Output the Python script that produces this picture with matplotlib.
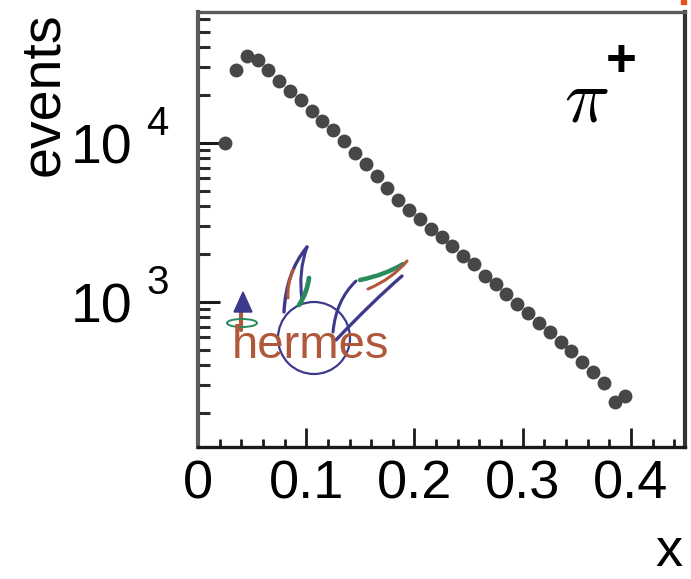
import matplotlib
matplotlib.use('Agg')
import matplotlib.pyplot as plt
from matplotlib.patches import Ellipse, Polygon, PathPatch, Rectangle
from matplotlib.path import Path
from matplotlib.transforms import blended_transform_factory, ScaledTranslation
import matplotlib.ticker as mticker

# ---------------- data ----------------
x_bins = [0.025, 0.035, 0.045, 0.055, 0.065, 0.075, 0.085, 0.095, 0.105, 0.115,
          0.125, 0.135, 0.145, 0.155, 0.165, 0.175, 0.185, 0.195, 0.205, 0.215,
          0.225, 0.235, 0.245, 0.255, 0.265, 0.275, 0.285, 0.295, 0.305, 0.315,
          0.325, 0.335, 0.345, 0.355, 0.365, 0.375, 0.385, 0.395]
events = [10000, 28840, 35080, 33110, 28840, 24550, 21380, 18620, 15850, 13800,
          12020, 10230, 8710, 7410, 6170, 5250, 4370, 3800, 3310, 2880,
          2570, 2240, 1950, 1740, 1450, 1290, 1120, 977, 851, 741,
          646, 562, 490, 417, 363, 309, 234, 257]
xtick_values = [0, 0.1, 0.2, 0.3, 0.4]
xtick_labels = ['0', '0.1', '0.2', '0.3', '0.4']
ytick_values = [1e3, 1e4]
ytick_bases = ['10', '10']
ytick_exponents = ['3', '4']
x_title = 'x'
y_title = 'events'
particle = r'$\pi$'
charge = '+'
logo_text = 'hermes'

plt.rcParams['font.family'] = ['Liberation Sans', 'DejaVu Sans']

W, H = 691, 579
fig = plt.figure(figsize=(W / 100, H / 100), dpi=100)
ax = fig.add_axes([198 / W, 1 - 447 / H, (685 - 198) / W, (447 - 12) / H])
ax.set_yscale('log')
ax.set_xlim(0, 0.45)
ax.set_ylim(122.5, 66700)

ax.plot(x_bins, events, 'o', color='#474747', ms=10, mec='none', zorder=3)

# spines
ax.spines['left'].set(color='#5a5a5a', linewidth=3)
ax.spines['top'].set(color='#5a5a5a', linewidth=2.4)
ax.spines['right'].set(color='#333333', linewidth=3)
ax.spines['bottom'].set(color='#1a1a1a', linewidth=2.4)

# ticks
ax.set_xticks(xtick_values)
ax.set_xticklabels(xtick_labels)
ax.xaxis.set_minor_locator(mticker.MultipleLocator(0.02))
ax.tick_params(axis='x', which='major', direction='in', length=14, width=2,
               color='#1a1a1a', labelsize=39, pad=9)
ax.tick_params(axis='x', which='minor', direction='in', length=6, width=2,
               color='#1a1a1a')
ax.yaxis.set_major_locator(mticker.FixedLocator(ytick_values))
ax.yaxis.set_minor_locator(mticker.LogLocator(base=10, subs=range(2, 10)))
ax.yaxis.set_minor_formatter(mticker.NullFormatter())
ax.tick_params(axis='y', which='major', direction='in', length=16, width=2.2,
               color='#1a1a1a', labelleft=False)
ax.tick_params(axis='y', which='minor', direction='in', length=8.5, width=2.2,
               color='#2a2a2a')

# y tick labels (base + raised exponent)
trans = blended_transform_factory(ax.transAxes, ax.transData)
for v, base, ex in zip(ytick_values, ytick_bases, ytick_exponents):
    ax.text(-66 / 487, v, base, ha='right', va='baseline', fontsize=40,
            transform=trans + ScaledTranslation(0, -0.20, fig.dpi_scale_trans))
    ax.text(-52 / 487, v, ex, ha='left', va='baseline', fontsize=29,
            transform=trans + ScaledTranslation(0, 0.08, fig.dpi_scale_trans))

# axis titles
ax.set_xlabel(x_title, loc='right', fontsize=39)
ax.xaxis.set_label_coords(0.995, -0.185)
ax.set_ylabel(y_title, loc='top', fontsize=40)
ax.yaxis.set_label_coords(-0.263, 1.0)

# pi+ label
fig.text(564 / W, 1 - 122 / H, particle, fontsize=54, math_fontfamily='cm',
         va='baseline', ha='left')
fig.text(606 / W, 1 - 76 / H, charge, fontsize=38, fontweight='bold',
         va='baseline', ha='left')

# ---------------- hermes logo (decoration) ----------------
navy = '#3d3a8c'
brown = '#b0583a'
green = '#2b8a5c'


def F(px, py):
    return (px / W, 1 - py / H)


def stroke(pts, color, lw):
    verts = [F(*p) for p in pts]
    if len(verts) == 3:
        codes = [Path.MOVETO, Path.CURVE3, Path.CURVE3]
    elif len(verts) == 4:
        codes = [Path.MOVETO, Path.CURVE4, Path.CURVE4, Path.CURVE4]
    else:
        codes = [Path.MOVETO] + [Path.LINETO] * (len(verts) - 1)
    fig.add_artist(PathPatch(Path(verts, codes), fill=False, ec=color, lw=lw,
                             capstyle='round', transform=fig.transFigure))


fig.add_artist(Ellipse(F(314, 338), 72 / W, 72 / H, fill=False, ec=navy, lw=1.6,
                       transform=fig.transFigure))
fig.text(232 / W, 1 - 358 / H, logo_text, color=brown, fontsize=34,
         va='baseline', ha='left')
# arrow
stroke([(241, 310), (241, 330)], brown, 3)
fig.add_artist(Polygon([F(243, 292), F(234, 312), F(252, 312)], closed=True,
                       fc=navy, ec=navy, transform=fig.transFigure))
fig.add_artist(Ellipse(F(242, 323), 30 / W, 8 / H, fill=False, ec=green, lw=1.4,
                       transform=fig.transFigure))
# left wing
stroke([(284, 312), (286, 272), (307, 247)], navy, 2.4)
stroke([(307, 247), (298, 272), (302, 300)], navy, 2.2)
stroke([(293, 270), (287, 285), (288, 298)], brown, 2.2)
stroke([(309, 278), (307, 293), (299, 305)], green, 3.4)
# right wing
stroke([(333, 332), (336, 300), (356, 281)], navy, 2.2)
stroke([(336, 340), (372, 302), (402, 276)], navy, 2.4)
stroke([(360, 280), (385, 275), (403, 264)], green, 3.2)
stroke([(368, 289), (392, 279), (407, 261)], brown, 2.2)

# small orange mark at top right corner
fig.add_artist(Rectangle((681 / W, 1 - 4 / H), 5 / W, 4 / H, color='#e8501a',
                         transform=fig.transFigure))

fig.savefig('out.png', dpi=100)
